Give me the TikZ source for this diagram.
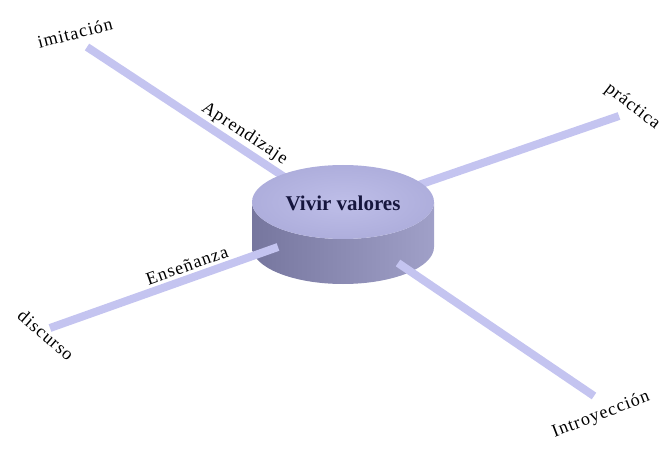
\documentclass[tikz,border=0pt]{standalone}
\usepackage{fontspec}
\setmainfont{Liberation Serif}
\newfontfamily\labelfont[LetterSpace=6]{Liberation Serif}
\usetikzlibrary{calc}

\definecolor{barcol}{RGB}{196,196,240}
\definecolor{topin}{RGB}{190,190,232}
\definecolor{topout}{RGB}{174,174,220}
\definecolor{sidedark}{RGB}{118,118,158}
\definecolor{sidelight}{RGB}{160,160,200}
\definecolor{titlecol}{RGB}{22,22,62}

\begin{document}
\begin{tikzpicture}[x=1pt,y=-1pt,
    bar/.style={line width=8pt,draw=barcol},
    lbl/.style={font=\labelfont\fontsize{18}{20}\selectfont,inner sep=1pt}]

    % パラメータの定義
    \pgfmathsetmacro{\cx}{343}
    \pgfmathsetmacro{\cy}{202}
    \pgfmathsetmacro{\rx}{91}
    \pgfmathsetmacro{\ry}{37}
    \pgfmathsetmacro{\h}{45}

    \useasboundingbox (0,0) rectangle (663,449);

    \coordinate (C) at (\cx,\cy);
    \coordinate (imiS) at (292,182);
    \coordinate (imiE) at (87,47);
    \coordinate (pracS) at (410,188);
    \coordinate (pracE) at (619,116);
    \coordinate (disS) at (278,247);
    \coordinate (disE) at (50,328);
    \coordinate (intS) at (398,263);
    \coordinate (intE) at (594,396);

    % 奥の棒
    \draw[bar] (imiE) -- node[lbl,sloped,above=1pt,pos=0.73] (apr) {Aprendizaje} (imiS);
    \draw[bar] (pracS) -- (pracE);

    % 円柱の描画
    \shade[left color=sidedark,right color=sidelight]
        (\cx-\rx,\cy) -- ++(0,\h)
        arc[start angle=180,end angle=360,x radius=\rx pt,y radius=\ry pt]
        -- ++(0,-\h)
        arc[start angle=0,end angle=-180,x radius=\rx pt,y radius=\ry pt] -- cycle;
    \shade[inner color=topin,outer color=topout] (C) ellipse [x radius=\rx pt,y radius=\ry pt];
    \node[font=\bfseries\fontsize{21}{24}\selectfont,text=titlecol] (vv) at (\cx,\cy+1) {Vivir valores};

    % 手前の棒
    \draw[bar] (disE) -- node[lbl,sloped,above=2pt,pos=0.62] (ens) {Enseñanza} (disS);
    \draw[bar] (intS) -- (intE);

    % 端のラベル
    \node[lbl,rotate=14] (imi) at (75,33) {imitación};
    \node[lbl,rotate=-38,anchor=west] (prac) at (606,86) {práctica};
    \node[lbl,rotate=-41] (dis) at (46,335) {discurso};
    \node[lbl,rotate=21] (intro) at (601,415) {Introyección};

\end{tikzpicture}
\end{document}
